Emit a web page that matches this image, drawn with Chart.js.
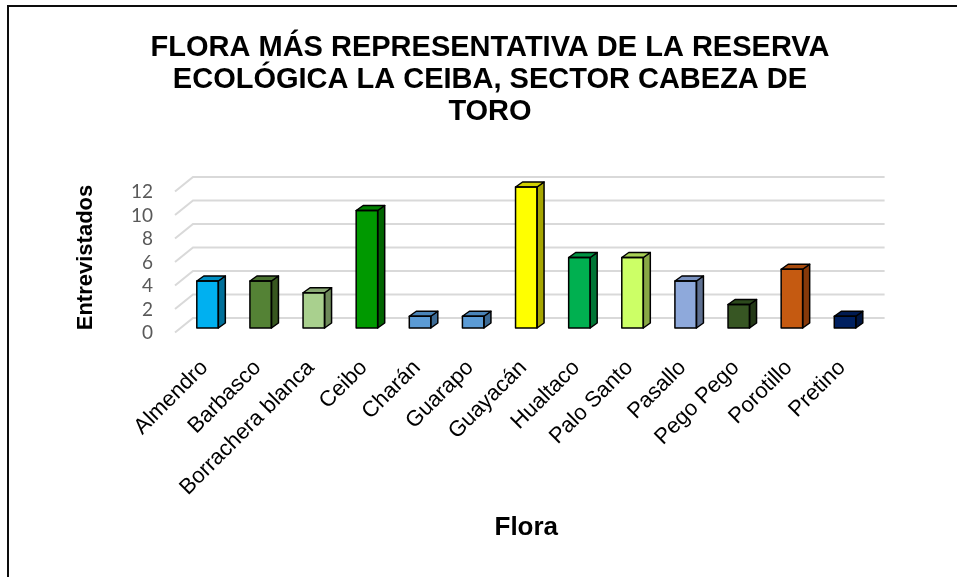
<!DOCTYPE html>
<html>
<head>
<meta charset="utf-8">
<script src="https://cdn.jsdelivr.net/npm/chart.js@4/dist/chart.umd.min.js"></script>
<style>
html,body{margin:0;padding:0;background:#fff;}
canvas{display:block;}
</style>
</head>
<body>
<canvas id="c" width="957" height="577"></canvas>
<script>
const categories = ["Almendro","Barbasco","Borrachera blanca","Ceibo","Charán","Guarapo","Guayacán","Hualtaco","Palo Santo","Pasallo","Pego Pego","Porotillo","Pretino"];
const values = [4,4,3,10,1,1,12,6,6,4,2,5,1];
const frontColors = ["#00B0F0","#548235","#A9D08E","#009900","#5B9BD5","#5B9BD5","#FFFF00","#00B050","#CCFF66","#8EA9DB","#375623","#C55A11","#002060"];
const sideColors  = ["#00709A","#37561F","#6E8A5A","#006400","#3C6A94","#3C6A94","#A6A600","#007535","#88A845","#5E7091","#243917","#85390A","#001540"];
const topColors   = ["#0090C4","#4A7230","#8AAA74","#008000","#4A84B8","#4A84B8","#D0D000","#009444","#A8D055","#7A92C0","#2D4A1D","#A84B0D","#001A50"];
const yTicks = [0,2,4,6,8,10,12];
const titleLines = ["FLORA MÁS REPRESENTATIVA DE LA RESERVA","ECOLÓGICA LA CEIBA, SECTOR CABEZA DE","TORO"];

const DX = 7, DY = -5;

const framePlugin = {
  id: 'frame',
  beforeDraw(chart) {
    const ctx = chart.ctx;
    ctx.save();
    ctx.fillStyle = '#ffffff';
    ctx.fillRect(0, 0, chart.width, chart.height);
    ctx.fillStyle = '#0d0d0d';
    ctx.fillRect(7, 5, 2, chart.height);
    ctx.fillRect(7, 5, chart.width, 2);
    ctx.restore();
  }
};

const gridPlugin = {
  id: 'grid3d',
  beforeDatasetsDraw(chart) {
    const ctx = chart.ctx;
    const ys = chart.scales.y;
    const {left, right} = chart.chartArea;
    ctx.save();
    ctx.strokeStyle = '#d9d9d9';
    ctx.lineWidth = 2;
    yTicks.forEach(v => {
      const y = ys.getPixelForValue(v);
      ctx.beginPath();
      ctx.moveTo(left - 6, y + 4.5);
      ctx.lineTo(left + 12, y - 10);
      ctx.lineTo(right + 13, y - 10);
      ctx.stroke();
    });
    ctx.restore();
  },
  afterDatasetsDraw(chart) {
    const ctx = chart.ctx;
    const meta = chart.getDatasetMeta(0);
    ctx.save();
    ctx.strokeStyle = '#000';
    ctx.lineWidth = 1.5;
    ctx.lineJoin = 'round';
    meta.data.forEach((bar, i) => {
      const p = bar.getProps(['x','y','base','width'], true);
      const l = p.x - p.width / 2, r = p.x + p.width / 2, t = p.y, b = p.base;
      ctx.beginPath();
      ctx.moveTo(r, t);
      ctx.lineTo(r + DX, t + DY);
      ctx.lineTo(r + DX, b + DY);
      ctx.lineTo(r, b);
      ctx.closePath();
      ctx.fillStyle = sideColors[i];
      ctx.fill();
      ctx.stroke();
      ctx.beginPath();
      ctx.moveTo(l, t);
      ctx.lineTo(l + DX, t + DY);
      ctx.lineTo(r + DX, t + DY);
      ctx.lineTo(r, t);
      ctx.closePath();
      ctx.fillStyle = topColors[i];
      ctx.fill();
      ctx.stroke();
      ctx.strokeRect(l, t, r - l, b - t);
    });
    ctx.restore();
  }
};

new Chart(document.getElementById('c'), {
  type: 'bar',
  data: {
    labels: categories,
    datasets: [{
      data: values,
      backgroundColor: frontColors,
      borderColor: '#000',
      borderWidth: 0,
      categoryPercentage: 1,
      barPercentage: 0.405
    }]
  },
  options: {
    responsive: false,
    animation: false,
    devicePixelRatio: 1,
    layout: { padding: { left: 60, right: 37, top: 0, bottom: 30 } },
    plugins: {
      legend: { display: false },
      tooltip: { enabled: false },
      title: {
        display: true,
        text: titleLines,
        color: '#000',
        font: { family: "'Liberation Sans', Arial, sans-serif", size: 29, weight: 'bold', lineHeight: 32 / 29 },
        padding: { top: 32, bottom: 59 }
      }
    },
    scales: {
      x: {
        grid: { display: false, drawTicks: false },
        border: { display: false },
        ticks: {
          autoSkip: false,
          minRotation: 45,
          maxRotation: 45,
          color: '#000',
          padding: 27,
          labelOffset: -3,
          font: { family: "'Liberation Sans', Arial, sans-serif", size: 22 }
        },
        title: {
          display: true,
          text: 'Flora',
          color: '#000',
          font: { family: "'Liberation Sans', Arial, sans-serif", size: 26, weight: 'bold', lineHeight: 1.2 },
          padding: { top: 0, bottom: 4 }
        },
        afterFit(scale) { scale.height = 577 - 30 - 328; }
      },
      y: {
        min: 0,
        max: 12,
        grid: { display: false, drawTicks: false },
        border: { display: false },
        ticks: {
          autoSkip: false,
          stepSize: 2,
          color: '#595959',
          padding: 28,
          labelOffset: 5,
          font: { family: "Lato, 'Open Sans', sans-serif", size: 19 }
        },
        title: {
          display: true,
          text: 'Entrevistados',
          color: '#000',
          font: { family: "'Liberation Sans', Arial, sans-serif", size: 22, weight: 'bold', lineHeight: 1.2 },
          padding: { top: 13, bottom: 0 }
        },
        afterFit(scale) { scale.width = 121; }
      },
      yRight: {
        position: 'right',
        display: true,
        grid: { display: false },
        border: { display: false },
        ticks: { display: false },
        afterFit(scale) { scale.width = 48.4; }
      }
    }
  },
  plugins: [framePlugin, gridPlugin]
});
</script>
</body>
</html>
